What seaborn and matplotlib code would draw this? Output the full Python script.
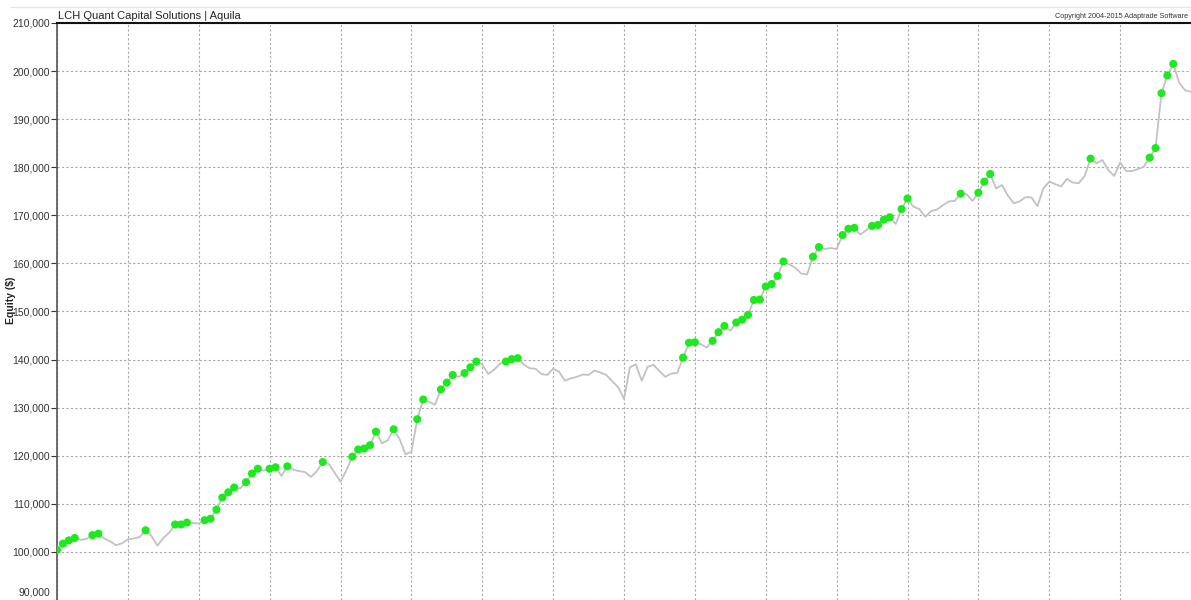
import numpy as np
import pandas as pd
import seaborn as sns
import matplotlib.pyplot as plt
import matplotlib.transforms as mtransforms
from matplotlib.lines import Line2D
from matplotlib.ticker import FuncFormatter, MultipleLocator

# equity curve, in thousands of $, one value per sample
equity_k = [
    100.4, 101.7, 102.4, 102.9, 102.5, 102.7, 103.5, 103.8, 102.8, 102.2,
    101.4, 101.8, 102.6, 102.8, 103.1, 104.5, 103.3, 101.3, 102.9, 104.0,
    105.7, 105.7, 106.1, 106.0, 105.9, 106.6, 106.9, 108.8, 111.3, 112.4,
    113.4, 113.2, 114.5, 116.3, 117.3, 116.9, 117.3, 117.6, 115.8, 117.8,
    117.1, 116.8, 116.6, 115.6, 116.8, 118.7, 118.3, 116.5, 114.6, 117.0,
    119.8, 121.3, 121.5, 122.2, 125.0, 122.6, 123.2, 125.5, 123.5, 120.3,
    120.8, 127.6, 131.7, 131.2, 130.6, 133.8, 135.2, 136.8, 136.4, 137.2,
    138.4, 139.6, 139.0, 137.0, 137.9, 139.1, 139.6, 140.1, 140.3, 139.0,
    138.2, 138.1, 137.0, 136.8, 138.1, 137.5, 135.6, 136.1, 136.4, 136.9,
    136.8, 137.7, 137.3, 136.8, 135.5, 134.3, 131.8, 138.4, 139.0, 135.6,
    138.5, 138.9, 137.6, 136.4, 137.1, 137.2, 140.4, 143.5, 143.6, 143.2,
    142.5, 143.9, 145.7, 147.0, 146.0, 147.7, 148.3, 149.3, 152.4, 152.5,
    155.2, 155.7, 157.4, 160.4, 159.8, 159.1, 157.9, 157.7, 161.4, 163.4,
    163.0, 163.2, 163.0, 165.9, 167.2, 167.4, 166.0, 166.9, 167.8, 168.0,
    169.1, 169.6, 168.2, 171.3, 173.5, 171.8, 171.3, 169.7, 170.9, 171.2,
    172.1, 172.9, 173.0, 174.5, 174.4, 173.0, 174.7, 177.0, 178.6, 175.6,
    176.3, 174.1, 172.5, 172.9, 173.8, 173.7, 171.9, 175.6, 177.0, 176.5,
    176.0, 177.6, 176.8, 176.7, 178.2, 181.8, 180.8, 181.5, 179.4, 178.2,
    181.0, 179.2, 179.2, 179.6, 180.1, 182.0, 184.0, 195.4, 199.1, 201.5,
    197.6, 196.0, 195.7,
]
y_ticks = list(range(90000, 210001, 10000))
title = "LCH Quant Capital Solutions | Aquila"
copyright_text = "Copyright 2004-2015 Adaptrade Software"

df = pd.DataFrame({
    "trade": np.arange(len(equity_k)),
    "equity": np.array(equity_k) * 1000,
})
# green markers on every new equity high
df["new_high"] = df["equity"] >= df["equity"].cummax()

sns.set_style("white")
plt.rcParams["font.family"] = ["Liberation Sans", "DejaVu Sans"]

fig = plt.figure(figsize=(11.91, 6), dpi=100)
ax = fig.add_axes([57 / 1191, 0, 1 - 57 / 1191, 1 - 23 / 600])

sns.lineplot(data=df, x="trade", y="equity", color="#c2c2c2",
             linewidth=1.3, ax=ax, zorder=2)
sns.scatterplot(data=df[df["new_high"]], x="trade", y="equity",
                color="#1ee81e", s=34, edgecolor="none", ax=ax, zorder=3)

ax.set_xlim(0, len(equity_k) - 1)
ax.set_ylim(90000, 210000)
ax.set_yticks(y_ticks)
ax.yaxis.set_major_formatter(FuncFormatter(lambda v, p: f"{v:,.0f}"))
ax.xaxis.set_major_locator(MultipleLocator(12))
ax.tick_params(axis="x", length=0, labelbottom=False)
ax.tick_params(axis="y", length=4, width=0.8, color="#333333",
               labelsize=7.5, labelcolor="#333333", pad=1, left=True)
ax.grid(True, color="#a8a8a8", linestyle=(0, (2, 2)), linewidth=0.8)
ax.set_axisbelow(True)

# lift the bottom label so it stays inside the picture
lift = mtransforms.ScaledTranslation(0, 6 / 72, fig.dpi_scale_trans)
bottom_label = ax.get_yticklabels()[0]
bottom_label.set_transform(bottom_label.get_transform() + lift)

for side in ["right", "bottom"]:
    ax.spines[side].set_visible(False)
ax.spines["top"].set_color("#111111")
ax.spines["top"].set_linewidth(1.5)
ax.spines["left"].set_color("#555555")
ax.spines["left"].set_linewidth(1.2)

ax.set_xlabel("")
ax.set_ylabel("Equity ($)", fontsize=7.5, fontweight="bold", color="#222222")
ax.yaxis.set_label_coords(-0.036, 0.52)

fig.text(58 / 1191, 1 - 16 / 600, title, fontsize=8, va="center",
         ha="left", color="#222222")
fig.text(1188 / 1191, 1 - 16 / 600, copyright_text, fontsize=5.2,
         va="center", ha="right", color="#333333")
fig.add_artist(Line2D([10 / 1191, 1], [1 - 7 / 600] * 2,
                      color="#e6e6e6", linewidth=1))

fig.savefig("out.png", dpi=100)
